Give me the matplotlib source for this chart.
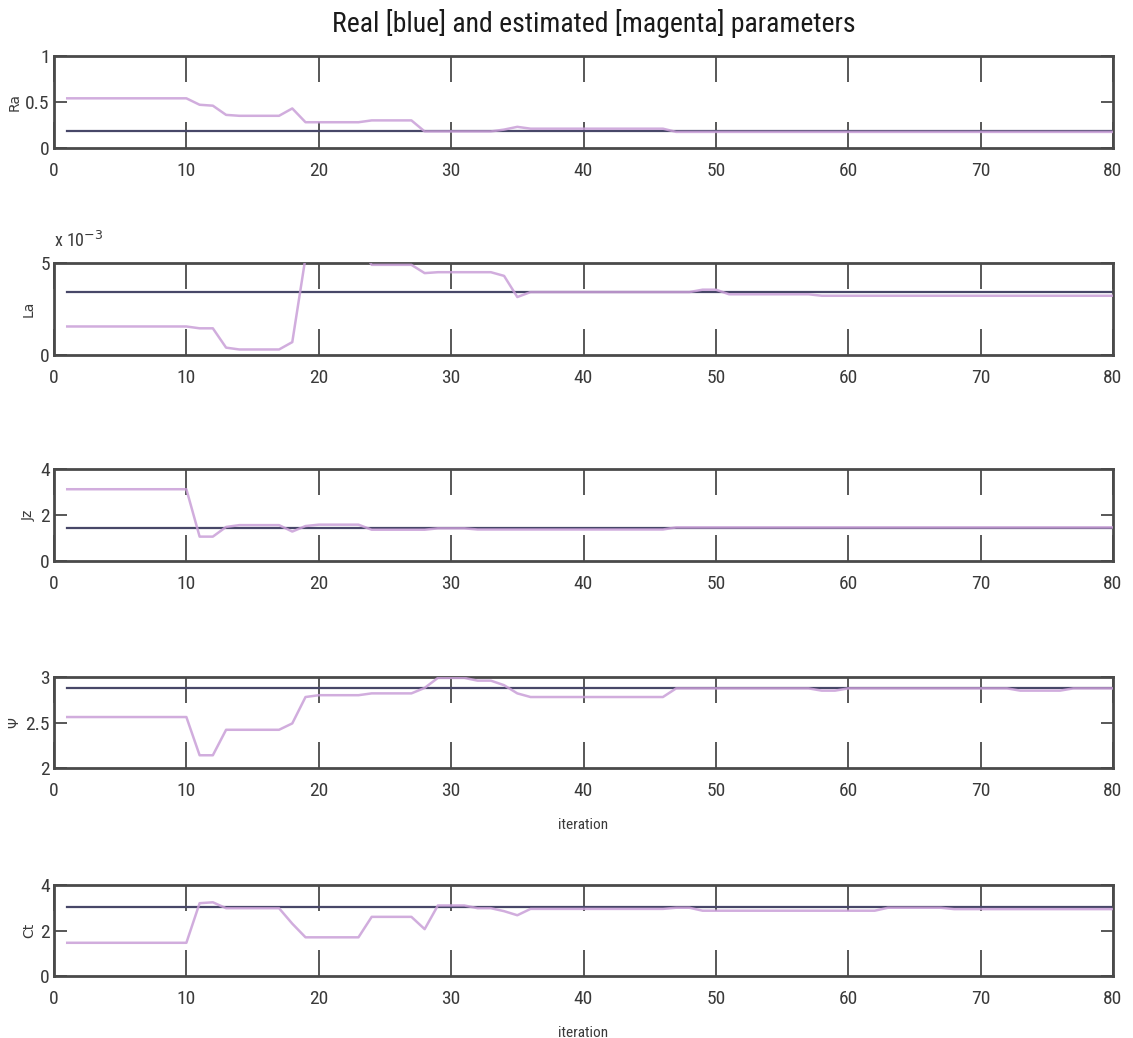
import numpy as np
import matplotlib.pyplot as plt
from matplotlib import font_manager

# iteration axis
iterations = np.arange(1, 81)

# real (blue) parameter values, constant over iterations
ra_real = 0.18
la_real = 3.42e-3
jz_real = 1.42
psi_real = 2.88
ct_real = 3.03

# estimated (magenta) parameter values, one per iteration
ra_est = ([0.54] * 10 + [0.47, 0.46, 0.36] + [0.35] * 4 + [0.43] + [0.28] * 5
          + [0.30] * 4 + [0.18] * 6 + [0.20, 0.23] + [0.21] * 11 + [0.175] * 34)
la_est = np.array([1.55] * 10 + [1.45] * 2 + [0.4] + [0.3] * 4 + [0.7, 5.3] + [6.0] * 4
                  + [4.9] * 4 + [4.45] + [4.5] * 5 + [4.3, 3.15] + [3.42] * 13
                  + [3.55] * 2 + [3.3] * 7 + [3.22] * 23) * 1e-3
jz_est = ([3.12] * 10 + [1.06] * 2 + [1.48] + [1.56] * 4 + [1.28, 1.52] + [1.58] * 4
          + [1.36] * 5 + [1.42] * 3 + [1.37] * 15 + [1.46] * 34)
psi_est = ([2.56] * 10 + [2.14] * 2 + [2.42] * 5 + [2.49, 2.78] + [2.80] * 4 + [2.82] * 4
           + [2.88] + [2.99] * 3 + [2.96] * 2 + [2.91, 2.82] + [2.78] * 11 + [2.875] * 11
           + [2.85] * 2 + [2.875] * 13 + [2.85] * 4 + [2.875] * 4)
ct_est = ([1.46] * 10 + [3.2, 3.24] + [2.98] * 5 + [2.3] + [1.7] * 5 + [2.6] * 4 + [2.06]
          + [3.1] * 3 + [2.98] * 2 + [2.85, 2.67] + [2.95] * 11 + [3.0] * 2 + [2.87] * 14
          + [3.0] * 5 + [2.94] * 13)

# axis labels / limits / ticks
names = ["Ra", "La", "Jz", "\u03a8", "Ct"]
reals = [ra_real, la_real, jz_real, psi_real, ct_real]
ests = [ra_est, la_est, jz_est, psi_est, ct_est]
ylims = [(0, 1), (0, 5e-3), (0, 4), (2, 3), (0, 4)]
yticks = [[0, 0.5, 1], [0, 5e-3], [0, 2, 4], [2, 2.5, 3], [0, 2, 4]]
yticklabels = [["0", "0.5", "1"], ["0", "5"], ["0", "2", "4"], ["2", "2.5", "3"], ["0", "2", "4"]]
xticks = [0, 10, 20, 30, 40, 50, 60, 70, 80]

# pick a narrow font if one is installed
installed = {f.name for f in font_manager.fontManager.ttflist}
narrow = [n for n in ["Liberation Sans Narrow", "DejaVu Sans Condensed", "Roboto Condensed",
                      "Open Sans Condensed"] if n in installed]
tick_font = narrow[:1] + ["DejaVu Sans"]
tick_size = 14 if narrow else 12
title_size = 20 if narrow else 16

W, H = 1133, 1038
fig = plt.figure(figsize=(W / 100, H / 100), dpi=100)

# axes boxes in pixels: (top, bottom)
boxes = [(56, 148), (263, 355), (469, 561), (677, 768), (885, 976)]
left, right = 54, 1113

real_color = "#474768"
est_color = "#c99fd8"
spine_color = "#4a4a4a"
text_color = "#3a3a3a"

for k, (top, bot) in enumerate(boxes):
    ax = fig.add_axes([left / W, 1 - bot / H, (right - left) / W, (bot - top) / H])
    ax.plot(iterations, np.full(len(iterations), reals[k]), color=real_color, lw=1.6, zorder=2)
    ax.plot(iterations, ests[k], color=est_color, lw=1.8, alpha=0.85, zorder=3)
    ax.set_xlim(0, 80)
    ax.set_ylim(*ylims[k])
    ax.set_xticks(xticks)
    ax.set_xticklabels([str(t) for t in xticks], family=tick_font, fontsize=tick_size)
    ax.set_yticks(yticks[k])
    ax.set_yticklabels(yticklabels[k], family=tick_font, fontsize=tick_size)
    ax.tick_params(axis="x", direction="in", length=19, width=1.3, color=spine_color,
                   top=True, pad=10, labelcolor=text_color)
    ax.tick_params(axis="y", direction="in", length=9, width=1.3, color=spine_color,
                   right=True, pad=3, labelcolor=text_color)
    for sp in ax.spines.values():
        sp.set_color(spine_color)
        sp.set_linewidth(2.0)
    ax.set_ylabel(names[k], fontsize=10, color=text_color, labelpad=3)
    if k == 1:
        ax.text(0.0, 1.13, r"x 10$^{-3}$", transform=ax.transAxes, fontsize=13,
                family=tick_font, color=text_color, va="bottom", ha="left")
    if k >= 3:
        ax.set_xlabel("iteration", fontsize=11, family=tick_font, color=text_color,
                      labelpad=13)

fig.text(594 / W, 1 - 24 / H, "Real [blue] and estimated [magenta] parameters",
         ha="center", va="center", fontsize=title_size, family=tick_font, color="#1a1a1a")

plt.savefig("out.png", dpi=100)
plt.close()
